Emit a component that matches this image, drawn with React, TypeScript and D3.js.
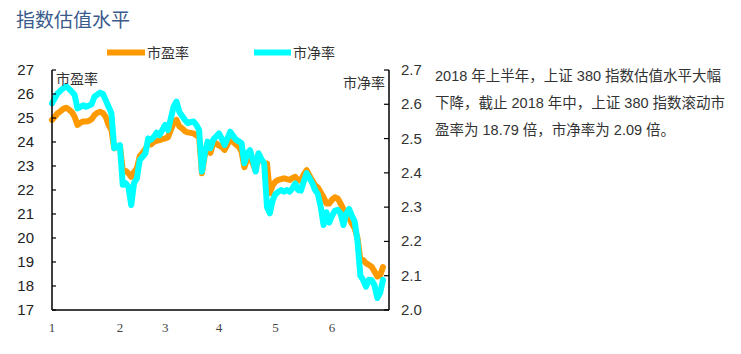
import React from "react";
import * as d3 from "d3";

const title = "指数估值水平";
const seriesNames = ["市盈率", "市净率"];
const monthLabels = ["1", "2", "3", "4", "5", "6"];
const monthTickDays = [0, 24, 40, 59, 79, 99];
const peTicks = [17, 18, 19, 20, 21, 22, 23, 24, 25, 26, 27];
const pbTicks = [2.0, 2.1, 2.2, 2.3, 2.4, 2.5, 2.6, 2.7];
const noteLines = [
  "2018 年上半年，上证 380 指数估值水平大幅",
  "下降，截止 2018 年中，上证 380 指数滚动市",
  "盈率为 18.79 倍，市净率为 2.09 倍。",
];

// 市盈率 (left axis), one value per trading day
const pe = [
  24.92, 25.05, 25.2, 25.28, 25.38, 25.43, 25.35, 25.25, 25.05, 24.71,
  24.8, 24.85, 24.85, 24.88, 24.95, 25.12, 25.22, 25.26, 25.2, 25.05,
  24.71, 24.5, 23.74, 23.8, 23.85, 22.83, 22.8, 22.7, 22.55, 22.75,
  22.9, 23.4, 23.55, 23.7, 23.94, 23.9, 24.0, 24.05, 24.08, 24.12,
  24.15, 24.2, 24.5, 24.8, 24.92, 24.65, 24.57, 24.45, 24.4, 24.38,
  24.36, 24.28, 24.22, 22.7, 23.45, 23.67, 23.55, 23.95, 23.95, 23.85,
  23.8, 23.67, 23.9, 24.15, 24.0, 23.9, 23.8, 23.6, 22.95, 23.3,
  23.4, 23.1, 22.8, 23.5, 23.25, 23.1, 23.1, 21.86, 22.2, 22.35,
  22.42, 22.45, 22.49, 22.45, 22.42, 22.5, 22.55, 22.4, 22.4, 22.65,
  22.83, 22.6, 22.4, 22.2, 22.1, 21.9, 21.7, 21.44, 21.44, 21.6,
  21.7, 21.65, 21.44, 21.2, 21.0, 20.85, 20.6, 20.4, 20.0, 19.08,
  19.08, 18.95, 18.88, 18.8, 18.6, 18.4, 18.45, 18.79,
];

// 市净率 (right axis), one value per trading day
const pb = [
  2.603, 2.618, 2.632, 2.64, 2.647, 2.653, 2.645, 2.637, 2.627, 2.588,
  2.592, 2.597, 2.593, 2.596, 2.6, 2.622, 2.628, 2.634, 2.63, 2.612,
  2.593, 2.574, 2.472, 2.476, 2.481, 2.365, 2.37, 2.36, 2.306, 2.37,
  2.384, 2.437, 2.447, 2.457, 2.5, 2.497, 2.505, 2.517, 2.51, 2.525,
  2.54, 2.525, 2.559, 2.593, 2.608, 2.578, 2.566, 2.554, 2.545, 2.548,
  2.55, 2.54, 2.525, 2.404, 2.457, 2.491, 2.472, 2.497, 2.506, 2.515,
  2.5, 2.481, 2.5, 2.52, 2.508, 2.497, 2.492, 2.487, 2.428, 2.457,
  2.466, 2.437, 2.404, 2.457, 2.44, 2.428, 2.3, 2.282, 2.32, 2.338,
  2.345, 2.35, 2.345, 2.35, 2.345, 2.355, 2.369, 2.35, 2.348, 2.375,
  2.399, 2.385, 2.37, 2.35, 2.338, 2.3, 2.248, 2.285, 2.255, 2.275,
  2.29, 2.292, 2.282, 2.248, 2.28, 2.295, 2.275, 2.258, 2.2, 2.1,
  2.087, 2.068, 2.088, 2.087, 2.072, 2.035, 2.05, 2.088,
];

const ORANGE = "#ff9900";
const CYAN = "#00ffff";
const SANS = "'Liberation Sans', Arial, 'Noto Sans CJK SC', sans-serif";
const SERIF = "'Liberation Serif', 'DejaVu Serif', 'Noto Sans CJK SC', serif";

export default function App() {
  const left = 52;
  const right = 389;
  const top = 70;
  const bottom = 310;
  const x = d3.scaleLinear().domain([0, pe.length - 1]).range([left, 383]);
  const yL = d3.scaleLinear().domain([17, 27]).range([bottom, top]);
  const yR = d3.scaleLinear().domain([2.0, 2.7]).range([bottom, top]);

  const linePE = d3
    .line<number>()
    .x((_, i) => x(i))
    .y((d) => yL(d))
    .curve(d3.curveLinear);
  const linePB = d3
    .line<number>()
    .x((_, i) => x(i))
    .y((d) => yR(d))
    .curve(d3.curveLinear);

  return (
    <svg
      width={741}
      height={354}
      style={{ position: "absolute", left: 0, top: 0, background: "#fff" }}
    >
      <text x={16} y={27} fontSize={19} fill="#3a5a8c" fontFamily="'Noto Sans CJK SC', sans-serif">
        {title}
      </text>

      {/* legend */}
      <line x1={107} x2={145} y1={52.5} y2={52.5} stroke={ORANGE} strokeWidth={6} />
      <text x={147} y={57.5} fontSize={14} fill="#333" fontFamily={SANS}>
        {seriesNames[0]}
      </text>
      <line x1={254} x2={291} y1={52.5} y2={52.5} stroke={CYAN} strokeWidth={6} />
      <text x={293} y={57.5} fontSize={14} fill="#333" fontFamily={SANS}>
        {seriesNames[1]}
      </text>

      {/* lines */}
      <path d={linePE(pe) || ""} fill="none" stroke={ORANGE} strokeWidth={6} strokeLinejoin="round" strokeLinecap="round" />
      <path d={linePB(pb) || ""} fill="none" stroke={CYAN} strokeWidth={6} strokeLinejoin="round" strokeLinecap="round" />

      {/* axes */}
      <line x1={left} x2={left} y1={top} y2={bottom} stroke="#000" strokeWidth={1.5} />
      <line x1={right} x2={right} y1={top} y2={bottom} stroke="#000" strokeWidth={1.5} />
      <line x1={left} x2={right} y1={bottom} y2={bottom} stroke="#000" strokeWidth={1.5} />

      {peTicks.map((t) => (
        <g key={"l" + t}>
          <line x1={left} x2={left + 4} y1={yL(t)} y2={yL(t)} stroke="#000" strokeWidth={1.2} />
          <text x={34} y={yL(t) + 5} textAnchor="end" fontSize={15} fill="#222" fontFamily={SANS}>
            {t}
          </text>
        </g>
      ))}
      {pbTicks.map((t) => (
        <g key={"r" + t}>
          <line x1={right - 5} x2={right} y1={yR(t)} y2={yR(t)} stroke="#000" strokeWidth={1.2} />
          <text x={401} y={yR(t) + 5} textAnchor="start" fontSize={15} fill="#333" fontFamily={SANS}>
            {t.toFixed(1)}
          </text>
        </g>
      ))}
      {monthTickDays.map((d, i) => (
        <text key={"m" + i} x={x(d)} y={332} textAnchor="middle" fontSize={13} fill="#444" fontFamily={SERIF}>
          {monthLabels[i]}
        </text>
      ))}

      {/* axis titles */}
      <text x={56} y={84} fontSize={14} fill="#333" fontFamily={SANS}>
        {seriesNames[0]}
      </text>
      <text x={385} y={88} textAnchor="end" fontSize={14} fill="#333" fontFamily={SANS}>
        {seriesNames[1]}
      </text>

      {/* note */}
      {noteLines.map((s, i) => (
        <text key={"n" + i} x={435} y={81 + i * 27} fontSize={14.5} fill="#333" fontFamily={SANS}>
          {s}
        </text>
      ))}
    </svg>
  );
}
